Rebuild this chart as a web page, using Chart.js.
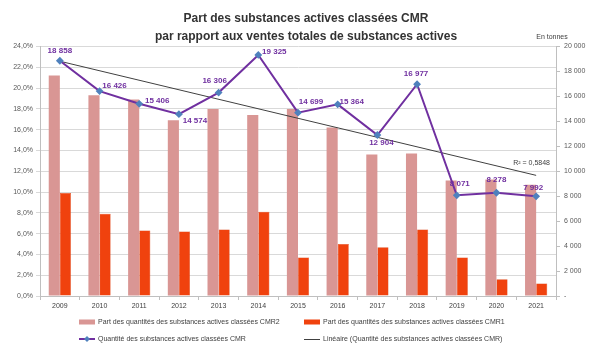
<!DOCTYPE html>
<html>
<head>
<meta charset="utf-8">
<script src="https://cdn.jsdelivr.net/npm/chart.js@4.4.1/dist/chart.umd.min.js"></script>
<style>
html,body{margin:0;padding:0;background:#fff;}
canvas{display:block;}
</style>
</head>
<body>
<canvas id="c" width="605" height="358"></canvas>
<script>
// ---- Data ----
const years = ['2009','2010','2011','2012','2013','2014','2015','2016','2017','2018','2019','2020','2021'];
const partCMR2 = [21.2, 19.3, 18.9, 16.9, 18.0, 17.4, 18.0, 16.2, 13.6, 13.7, 11.1, 11.2, 10.7];
const partCMR1 = [9.9, 7.9, 6.3, 6.2, 6.4, 8.1, 3.7, 5.0, 4.7, 6.4, 3.7, 1.6, 1.2];
const quantiteCMR = [18858, 16426, 15406, 14574, 16306, 19325, 14699, 15364, 12904, 16977, 8071, 8278, 7992];
const tendance = [18820, null, null, null, null, null, null, null, null, null, null, null, 9670];
const leftTicks = [0,2,4,6,8,10,12,14,16,18,20,22,24];
const rightTicks = [0,2000,4000,6000,8000,10000,12000,14000,16000,18000,20000];
const titleLines = ['Part des substances actives classées CMR', 'par rapport aux ventes totales de substances actives'];
const legendLabels = ['Part des quantités des substances actives classées CMR2',
  'Part des quantités des substances actives classées CMR1',
  'Quantité des substances actives classées CMR',
  'Linéaire (Quantité des substances actives classées CMR)'];
const r2Text = 'R² = 0,5848';
const unitText = 'En tonnes';

// label offsets (layout only)
const labelOffsets = [[0,-10],[15,-5],[18,-3],[16,7],[-4,-12],[16,-3],[13,-11],[14,-3],[4,8],[-1,-10],[3,-12],[0,-13],[-3,-9]];

const C_PINK = '#D99694';
const C_RED = '#F0420E';
const C_PURPLE = '#7030A0';
const C_MARK = '#4F81BD';
const C_TREND = '#404040';
const FONT = '"Liberation Sans", Arial, sans-serif';

function fmtThousands(v){
  if (v === 0) return '-';
  return String(v).replace(/\B(?=(\d{3})+(?!\d))/g, ' ');
}

const decoPlugin = {
  id: 'deco',
  afterDatasetsDraw(chart) {
    const ctx = chart.ctx;
    const meta = chart.getDatasetMeta(2);
    ctx.save();
    ctx.font = 'bold 8px ' + FONT;
    ctx.fillStyle = C_PURPLE;
    ctx.textAlign = 'center';
    ctx.textBaseline = 'middle';
    meta.data.forEach((pt, i) => {
      const o = labelOffsets[i];
      ctx.fillText(fmtThousands(quantiteCMR[i]), pt.x + o[0], pt.y + o[1]);
    });
    ctx.restore();
  },
  afterDraw(chart) {
    const ctx = chart.ctx;
    ctx.save();
    // title
    ctx.font = 'bold 12px ' + FONT;
    ctx.fillStyle = '#333333';
    ctx.textAlign = 'center';
    ctx.textBaseline = 'middle';
    ctx.fillText(titleLines[0], 306, 19);
    ctx.fillText(titleLines[1], 306, 37);
    // unit
    ctx.font = '7px ' + FONT;
    ctx.fillStyle = '#404040';
    ctx.fillText(unitText, 552, 37);
    // R2
    ctx.textAlign = 'right';
    ctx.fillText(r2Text, 550, 163);
    // legend
    ctx.textAlign = 'left';
    ctx.font = '7px ' + FONT;
    const r1 = 322, r2 = 339;
    ctx.fillStyle = C_PINK;
    ctx.fillRect(79, r1 - 2.5, 16, 5);
    ctx.fillStyle = C_RED;
    ctx.fillRect(304, r1 - 2.5, 16, 5);
    ctx.strokeStyle = C_PURPLE;
    ctx.lineWidth = 2;
    ctx.beginPath(); ctx.moveTo(79, r2); ctx.lineTo(95, r2); ctx.stroke();
    ctx.fillStyle = C_MARK;
    ctx.beginPath(); ctx.moveTo(87, r2 - 3); ctx.lineTo(90, r2); ctx.lineTo(87, r2 + 3); ctx.lineTo(84, r2); ctx.closePath(); ctx.fill();
    ctx.strokeStyle = C_TREND;
    ctx.lineWidth = 1;
    ctx.beginPath(); ctx.moveTo(304, r2 + 0.5); ctx.lineTo(320, r2 + 0.5); ctx.stroke();
    ctx.fillStyle = '#404040';
    ctx.fillText(legendLabels[0], 98, r1);
    ctx.fillText(legendLabels[1], 323, r1);
    ctx.fillText(legendLabels[2], 98, r2);
    ctx.fillText(legendLabels[3], 323, r2);
    ctx.restore();
  }
};

new Chart(document.getElementById('c'), {
  type: 'bar',
  data: {
    labels: years,
    datasets: [
      { label: legendLabels[0], data: partCMR2, backgroundColor: C_PINK, yAxisID: 'y', order: 3,
        categoryPercentage: 0.56, barPercentage: 1.0 },
      { label: legendLabels[1], data: partCMR1, backgroundColor: C_RED, borderColor: '#D83A0A', borderWidth: 0.5, yAxisID: 'y', order: 3,
        categoryPercentage: 0.56, barPercentage: 1.0 },
      { type: 'line', label: legendLabels[2], data: quantiteCMR, yAxisID: 'y1', order: 0,
        borderColor: C_PURPLE, borderWidth: 2, pointStyle: 'rectRot', pointRadius: 2.5,
        pointBackgroundColor: C_MARK, pointBorderColor: C_MARK, tension: 0 },
      { type: 'line', label: legendLabels[3], data: tendance, yAxisID: 'y1', order: 1,
        borderColor: C_TREND, borderWidth: 1, pointRadius: 0, spanGaps: true }
    ]
  },
  options: {
    responsive: false,
    animation: false,
    devicePixelRatio: 1,
    layout: { padding: { top: 46.5, bottom: 48, left: 0, right: 0 } },
    plugins: { legend: { display: false }, title: { display: false }, tooltip: { enabled: false } },
    scales: {
      x: {
        offset: true,
        grid: { drawOnChartArea: false, drawTicks: true, tickLength: 4, color: '#BFBFBF', offset: true },
        border: { color: '#BFBFBF' },
        ticks: { font: { size: 7, family: FONT }, color: '#404040', padding: 2, maxRotation: 0 },
        afterFit: s => { s.height = 14; }
      },
      y: {
        position: 'left', min: 0, max: 24,
        afterBuildTicks: s => { s.ticks = leftTicks.map(v => ({ value: v })); },
        ticks: { font: { size: 7, family: FONT }, color: '#595959', padding: 3,
          callback: v => v.toFixed(1).replace('.', ',') + '%' },
        grid: { color: '#D9D9D9', tickLength: 4 },
        border: { color: '#BFBFBF' },
        afterFit: s => { s.width = 40; }
      },
      y1: {
        position: 'right', min: 0, max: 20000,
        afterBuildTicks: s => { s.ticks = rightTicks.map(v => ({ value: v })); },
        ticks: { font: { size: 7, family: FONT }, color: '#595959', padding: 4,
          callback: v => fmtThousands(v) },
        grid: { drawOnChartArea: false, tickLength: 4, color: '#BFBFBF' },
        border: { color: '#BFBFBF' },
        afterFit: s => { s.width = 49; }
      }
    }
  },
  plugins: [decoPlugin]
});
</script>
</body>
</html>
